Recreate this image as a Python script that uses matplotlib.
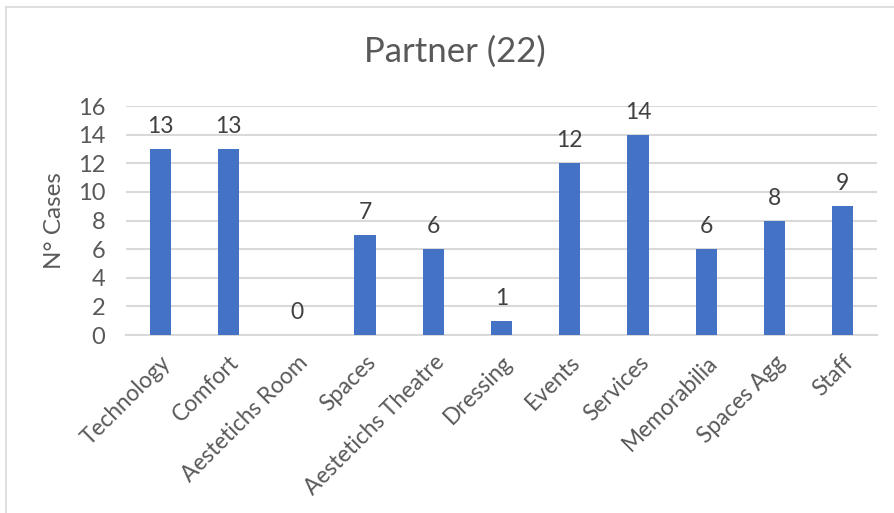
import matplotlib.pyplot as plt
from matplotlib.lines import Line2D

categories = ["Technology", "Comfort", "Aestetichs Room", "Spaces", "Aestetichs Theatre",
              "Dressing", "Events", "Services", "Memorabilia", "Spaces Agg", "Staff"]
cases = [13, 13, 0, 7, 6, 1, 12, 14, 6, 8, 9]
y_ticks = [0, 2, 4, 6, 8, 10, 12, 14, 16]

text_col = "#595959"
grid_col = "#D9D9D9"
bar_col = "#4472C4"

plt.rcParams['font.family'] = ['Lato', 'DejaVu Sans']

fig = plt.figure(figsize=(8.94, 5.13), dpi=100)
ax = fig.add_axes([126 / 894, 1 - 335 / 513, (877 - 126) / 894, (335 - 106) / 513])

x = list(range(len(categories)))
ax.bar(x, cases, width=0.31, color=bar_col, zorder=3)

for xi, v in zip(x, cases):
    ax.annotate(str(v), (xi, v), xytext=(0, 11.5), textcoords="offset points",
                ha="center", va="baseline", fontsize=16.5, color="#404040")

ax.set_xlim(-0.5, len(categories) - 0.5)
ax.set_ylim(0, 16)
ax.set_yticks(y_ticks)
ax.yaxis.grid(True, color=grid_col, linewidth=1.5, zorder=0)
ax.tick_params(axis="y", length=0, labelsize=17, labelcolor=text_col, pad=15)
ax.tick_params(axis="x", length=0, labelsize=16.3, labelcolor=text_col, pad=12)
ax.set_xticks(x)
ax.set_xticklabels(categories, rotation=45, ha="right", rotation_mode="anchor")

for side in ["top", "right", "left"]:
    ax.spines[side].set_visible(False)
ax.spines["bottom"].set_color(grid_col)
ax.spines["bottom"].set_linewidth(1.5)

ax.set_ylabel("N° Cases", fontsize=17.5, color=text_col)
ax.yaxis.set_label_coords(-0.081, 0.5)
fig.text(455 / 894, 1 - 52 / 513, "Partner (22)", ha="center", va="center",
         fontsize=25, color=text_col)

# chart area frame (top and left edges)
fig.add_artist(Line2D([6 / 894, 1], [1 - 7 / 513, 1 - 7 / 513], color="#D9D9D9", linewidth=1.2))
fig.add_artist(Line2D([6 / 894, 6 / 894], [0, 1 - 7 / 513], color="#D9D9D9", linewidth=1.2))

fig.savefig("out.png", dpi=100)
